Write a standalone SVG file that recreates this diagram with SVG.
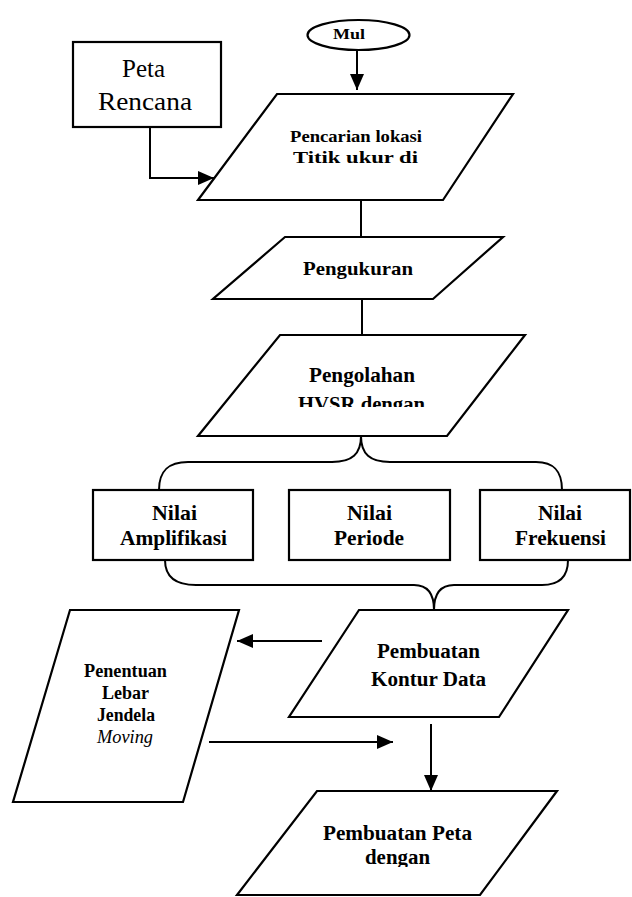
<svg xmlns="http://www.w3.org/2000/svg" width="632" height="897" viewBox="0 0 632 897">
<style>
.shape{fill:#fff;stroke:#000;stroke-width:2.2}
.con{fill:none;stroke:#000;stroke-width:2}
.t{font-family:"Liberation Serif","Times New Roman",serif;font-weight:bold;text-anchor:middle;fill:#000}
.r{font-weight:normal}
.i{font-weight:normal;font-style:italic}
</style>
<defs>
<marker id="arr" viewBox="0 0 16 14" refX="16" refY="7" markerWidth="16" markerHeight="14" markerUnits="userSpaceOnUse" orient="auto">
<path d="M0,0 L16,7 L0,14 z" fill="#000"/>
</marker>
<clipPath id="clipH"><rect x="198" y="335" width="330" height="72"/></clipPath>
<clipPath id="clipD"><rect x="230" y="791" width="330" height="76"/></clipPath>
</defs>
<rect width="632" height="897" fill="#fff"/>

<g id="connectors">
<line class="con" x1="357" y1="50" x2="357" y2="90" stroke-width="2.5" marker-end="url(#arr)"/>
<polyline class="con" points="150,127 150,178 214,178" stroke-width="1.6" marker-end="url(#arr)"/>
<line class="con" x1="361" y1="200" x2="361" y2="237"/>
<line class="con" x1="362" y1="299" x2="362" y2="335"/>
<path class="con" d="M361,436 C361,454 352,462 332,462 L188,462 C168,462 159,471 159,490"/>
<path class="con" d="M361,436 C361,454 370,462 390,462 L536,462 C554,462 562,471 562,490"/>
<path class="con" d="M165,560 C165,576 175,585 196,585 L414,585 C428,585 434,595 434,610"/>
<path class="con" d="M568,560 C568,576 560,585 542,585 L454,585 C440,585 434,595 434,610"/>
<line class="con" x1="322" y1="641" x2="237" y2="641" marker-end="url(#arr)"/>
<line class="con" x1="209" y1="742" x2="393" y2="742" stroke-width="1.6" marker-end="url(#arr)"/>
<line class="con" x1="431" y1="724" x2="431" y2="791" stroke-width="3" marker-end="url(#arr)"/>
</g>

<g id="mul">
<ellipse class="shape" cx="358.5" cy="35" rx="51" ry="15"/>
<text class="t" x="349" y="39" font-size="15" textLength="32" lengthAdjust="spacingAndGlyphs">Mul</text>
</g>

<g id="peta-rencana">
<rect class="shape" x="73" y="42" width="148" height="85"/>
<text class="t r" x="143.5" y="77" font-size="25" textLength="43" lengthAdjust="spacingAndGlyphs">Peta</text>
<text class="t r" x="145" y="110" font-size="25" textLength="94" lengthAdjust="spacingAndGlyphs">Rencana</text>
</g>

<g id="pencarian">
<polygon class="shape" points="277,94 513,94 443,200 198,200"/>
<text class="t" x="356" y="142" font-size="17" textLength="132" lengthAdjust="spacingAndGlyphs">Pencarian lokasi</text>
<text class="t" x="355.5" y="163" font-size="17" textLength="125" lengthAdjust="spacingAndGlyphs">Titik ukur di</text>
</g>

<g id="pengukuran">
<polygon class="shape" points="285,237 503,237 433,299 213,299"/>
<text class="t" x="358" y="275" font-size="19" textLength="110" lengthAdjust="spacingAndGlyphs">Pengukuran</text>
</g>

<g id="pengolahan">
<polygon class="shape" points="280,335 525,335 447,436 198,436"/>
<text class="t" x="362" y="382" font-size="20" textLength="106" lengthAdjust="spacingAndGlyphs">Pengolahan</text>
<text class="t" x="361.5" y="411" font-size="20" textLength="127" lengthAdjust="spacingAndGlyphs" clip-path="url(#clipH)">HVSR dengan</text>
</g>

<g id="nilai-amplifikasi">
<rect class="shape" x="93" y="490" width="160" height="70"/>
<text class="t" x="174.5" y="520" font-size="21" textLength="45" lengthAdjust="spacingAndGlyphs">Nilai</text>
<text class="t" x="173.5" y="545" font-size="21" textLength="107" lengthAdjust="spacingAndGlyphs">Amplifikasi</text>
</g>

<g id="nilai-periode">
<rect class="shape" x="289" y="490" width="161" height="70"/>
<text class="t" x="369.5" y="520" font-size="21" textLength="45" lengthAdjust="spacingAndGlyphs">Nilai</text>
<text class="t" x="369" y="545" font-size="21" textLength="70" lengthAdjust="spacingAndGlyphs">Periode</text>
</g>

<g id="nilai-frekuensi">
<rect class="shape" x="480" y="490" width="150" height="70"/>
<text class="t" x="560" y="520" font-size="21" textLength="44" lengthAdjust="spacingAndGlyphs">Nilai</text>
<text class="t" x="560.5" y="545" font-size="21" textLength="91" lengthAdjust="spacingAndGlyphs">Frekuensi</text>
</g>

<g id="kontur">
<polygon class="shape" points="359,610 568,610 499,717 289,717"/>
<text class="t" x="428.5" y="658" font-size="20" textLength="103" lengthAdjust="spacingAndGlyphs">Pembuatan</text>
<text class="t" x="428.5" y="686" font-size="20" textLength="115" lengthAdjust="spacingAndGlyphs">Kontur Data</text>
</g>

<g id="penentuan">
<polygon class="shape" points="70,610 239,610 183,802 13,802"/>
<text class="t" x="125.5" y="677" font-size="18" textLength="83" lengthAdjust="spacingAndGlyphs">Penentuan</text>
<text class="t" x="125.5" y="699" font-size="18" textLength="47" lengthAdjust="spacingAndGlyphs">Lebar</text>
<text class="t" x="126" y="721" font-size="18" textLength="58" lengthAdjust="spacingAndGlyphs">Jendela</text>
<text class="t i" x="125" y="743" font-size="18" textLength="56" lengthAdjust="spacingAndGlyphs">Moving</text>
</g>

<g id="pembuatan-peta">
<polygon class="shape" points="317,791 557,791 480,895 237,895"/>
<text class="t" x="397.5" y="840" font-size="20" textLength="149" lengthAdjust="spacingAndGlyphs">Pembuatan Peta</text>
<text class="t" x="397.5" y="864" font-size="20" textLength="65" lengthAdjust="spacingAndGlyphs" clip-path="url(#clipD)">dengan</text>
</g>
</svg>
